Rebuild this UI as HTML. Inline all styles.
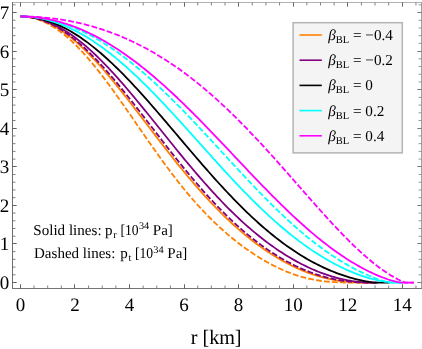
<!DOCTYPE html>
<html><head><meta charset="utf-8"><style>
html,body{margin:0;padding:0;background:#fff;}
svg{display:block;will-change:transform;font-family:"Liberation Serif",serif;}
text{text-rendering:geometricPrecision;}
.g{opacity:0.999;}
</style></head><body>
<svg width="422" height="349" viewBox="0 0 422 349">
<g><path d="M20.40,16.45 L22.60,16.49 L24.81,16.61 L27.01,16.82 L29.22,17.12 L31.42,17.49 L33.63,17.95 L35.83,18.49 L38.04,19.11 L40.24,19.81 L42.45,20.59 L44.65,21.45 L46.86,22.39 L49.06,23.41 L51.27,24.51 L53.47,25.68 L55.68,26.93 L57.88,28.25 L60.08,29.64 L62.29,31.11 L64.49,32.64 L66.70,34.25 L68.90,35.92 L71.11,37.66 L73.31,39.46 L75.52,41.33 L77.72,43.26 L79.93,45.24 L82.13,47.29 L84.34,49.39 L86.54,51.54 L88.75,53.75 L90.95,56.01 L93.16,58.32 L95.36,60.67 L97.56,63.07 L99.77,65.52 L101.97,68.00 L104.18,70.52 L106.38,73.08 L108.59,75.68 L110.79,78.31 L113.00,80.97 L115.20,83.66 L117.41,86.38 L119.61,89.12 L121.82,91.88 L124.02,94.67 L126.23,97.48 L128.43,100.30 L130.64,103.14 L132.84,105.99 L135.04,108.85 L137.25,111.73 L139.45,114.61 L141.66,117.49 L143.86,120.38 L146.07,123.28 L148.27,126.17 L150.48,129.06 L152.68,131.95 L154.89,134.83 L157.09,137.71 L159.30,140.58 L161.50,143.44 L163.71,146.29 L165.91,149.13 L168.12,151.96 L170.32,154.77 L172.52,157.56 L174.73,160.34 L176.93,163.09 L179.14,165.83 L181.34,168.55 L183.55,171.24 L185.75,173.92 L187.96,176.57 L190.16,179.19 L192.37,181.79 L194.57,184.36 L196.78,186.90 L198.98,189.42 L201.19,191.91 L203.39,194.37 L205.60,196.80 L207.80,199.20 L210.00,201.56 L212.21,203.90 L214.41,206.21 L216.62,208.48 L218.82,210.72 L221.03,212.93 L223.23,215.10 L225.44,217.24 L227.64,219.35 L229.85,221.43 L232.05,223.47 L234.26,225.47 L236.46,227.45 L238.67,229.39 L240.87,231.29 L243.08,233.16 L245.28,235.00 L247.48,236.80 L249.69,238.57 L251.89,240.30 L254.10,242.00 L256.30,243.66 L258.51,245.29 L260.71,246.88 L262.92,248.44 L265.12,249.97 L267.33,251.46 L269.53,252.92 L271.74,254.34 L273.94,255.72 L276.15,257.08 L278.35,258.39 L280.56,259.68 L282.76,260.92 L284.96,262.14 L287.17,263.32 L289.37,264.46 L291.58,265.57 L293.78,266.64 L295.99,267.67 L298.19,268.68 L300.40,269.64 L302.60,270.57 L304.81,271.47 L307.01,272.33 L309.22,273.15 L311.42,273.93 L313.63,274.69 L315.83,275.40 L318.04,276.08 L320.24,276.72 L322.44,277.33 L324.65,277.90 L326.85,278.43 L329.06,278.93 L331.26,279.40 L333.47,279.83 L335.67,280.22 L337.88,280.58 L340.08,280.91 L342.29,281.21 L344.49,281.47 L346.70,281.70 L348.90,281.91 L351.11,282.08 L353.31,282.23 L355.52,282.35 L357.72,282.45 L359.92,282.52 L362.13,282.58 L364.33,282.62 L366.54,282.64 L368.74,282.65 L370.95,282.65 L370.95,282.65" stroke="#ff8000" stroke-width="1.8" fill="none"/><path d="M20.40,16.45 L22.60,16.50 L24.81,16.64 L27.01,16.88 L29.22,17.21 L31.42,17.63 L33.63,18.15 L35.83,18.77 L38.04,19.48 L40.24,20.28 L42.45,21.17 L44.65,22.15 L46.86,23.23 L49.06,24.39 L51.27,25.64 L53.47,26.98 L55.68,28.40 L57.88,29.91 L60.08,31.51 L62.29,33.18 L64.49,34.94 L66.70,36.78 L68.90,38.69 L71.11,40.69 L73.31,42.75 L75.52,44.89 L77.72,47.10 L79.93,49.38 L82.13,51.72 L84.34,54.13 L86.54,56.60 L88.75,59.13 L90.95,61.72 L93.16,64.37 L95.36,67.07 L97.56,69.82 L99.77,72.61 L101.97,75.46 L104.18,78.34 L106.38,81.27 L108.59,84.23 L110.79,87.23 L113.00,90.26 L115.20,93.32 L117.41,96.41 L119.61,99.52 L121.82,102.66 L124.02,105.81 L126.23,108.97 L128.43,112.15 L130.64,115.34 L132.84,118.54 L135.04,121.74 L137.25,124.94 L139.45,128.14 L141.66,131.34 L143.86,134.53 L146.07,137.72 L148.27,140.89 L150.48,144.05 L152.68,147.19 L154.89,150.32 L157.09,153.42 L159.30,156.50 L161.50,159.56 L163.71,162.60 L165.91,165.60 L168.12,168.58 L170.32,171.52 L172.52,174.43 L174.73,177.31 L176.93,180.15 L179.14,182.96 L181.34,185.73 L183.55,188.46 L185.75,191.15 L187.96,193.80 L190.16,196.41 L192.37,198.97 L194.57,201.50 L196.78,203.99 L198.98,206.43 L201.19,208.83 L203.39,211.18 L205.60,213.50 L207.80,215.77 L210.00,218.00 L212.21,220.19 L214.41,222.33 L216.62,224.44 L218.82,226.50 L221.03,228.52 L223.23,230.50 L225.44,232.44 L227.64,234.35 L229.85,236.21 L232.05,238.03 L234.26,239.82 L236.46,241.57 L238.67,243.28 L240.87,244.96 L243.08,246.59 L245.28,248.20 L247.48,249.76 L249.69,251.29 L251.89,252.79 L254.10,254.25 L256.30,255.67 L258.51,257.06 L260.71,258.41 L262.92,259.73 L265.12,261.02 L267.33,262.26 L269.53,263.47 L271.74,264.65 L273.94,265.79 L276.15,266.89 L278.35,267.95 L280.56,268.98 L282.76,269.97 L284.96,270.92 L287.17,271.83 L289.37,272.70 L291.58,273.53 L293.78,274.32 L295.99,275.08 L298.19,275.79 L300.40,276.46 L302.60,277.09 L304.81,277.69 L307.01,278.24 L309.22,278.75 L311.42,279.23 L313.63,279.66 L315.83,280.06 L318.04,280.43 L320.24,280.76 L322.44,281.05 L324.65,281.31 L326.85,281.55 L329.06,281.75 L331.26,281.92 L333.47,282.07 L335.67,282.20 L337.88,282.31 L340.08,282.39 L342.29,282.46 L344.49,282.52 L346.70,282.56 L348.90,282.59 L351.11,282.61 L353.31,282.63 L355.52,282.64 L357.72,282.64 L359.92,282.65 L362.13,282.65 L364.33,282.65 L366.54,282.65 L368.74,282.65 L370.95,282.65 L370.95,282.65" stroke="#ff8000" stroke-width="1.8" fill="none" stroke-dasharray="5.8 2.2"/><path d="M20.40,16.45 L22.61,16.48 L24.82,16.59 L27.04,16.77 L29.25,17.02 L31.46,17.34 L33.67,17.73 L35.88,18.20 L38.10,18.73 L40.31,19.33 L42.52,20.00 L44.73,20.74 L46.95,21.55 L49.16,22.43 L51.37,23.38 L53.58,24.39 L55.79,25.46 L58.01,26.60 L60.22,27.81 L62.43,29.08 L64.64,30.41 L66.85,31.81 L69.07,33.26 L71.28,34.77 L73.49,36.34 L75.70,37.97 L77.92,39.66 L80.13,41.40 L82.34,43.19 L84.55,45.04 L86.76,46.94 L88.98,48.88 L91.19,50.88 L93.40,52.92 L95.61,55.01 L97.82,57.15 L100.04,59.33 L102.25,61.54 L104.46,63.80 L106.67,66.10 L108.89,68.43 L111.10,70.80 L113.31,73.21 L115.52,75.64 L117.73,78.11 L119.95,80.61 L122.16,83.13 L124.37,85.68 L126.58,88.26 L128.79,90.86 L131.01,93.48 L133.22,96.12 L135.43,98.78 L137.64,101.45 L139.86,104.14 L142.07,106.85 L144.28,109.56 L146.49,112.29 L148.70,115.02 L150.92,117.77 L153.13,120.51 L155.34,123.27 L157.55,126.02 L159.76,128.78 L161.98,131.54 L164.19,134.29 L166.40,137.05 L168.61,139.80 L170.82,142.54 L173.04,145.28 L175.25,148.00 L177.46,150.72 L179.67,153.43 L181.89,156.13 L184.10,158.82 L186.31,161.49 L188.52,164.14 L190.73,166.78 L192.95,169.40 L195.16,172.01 L197.37,174.59 L199.58,177.15 L201.79,179.70 L204.01,182.22 L206.22,184.72 L208.43,187.19 L210.64,189.64 L212.86,192.07 L215.07,194.47 L217.28,196.84 L219.49,199.19 L221.70,201.50 L223.92,203.79 L226.13,206.06 L228.34,208.29 L230.55,210.49 L232.76,212.66 L234.98,214.80 L237.19,216.92 L239.40,219.00 L241.61,221.04 L243.83,223.06 L246.04,225.05 L248.25,227.00 L250.46,228.92 L252.67,230.81 L254.89,232.66 L257.10,234.48 L259.31,236.27 L261.52,238.03 L263.73,239.75 L265.95,241.44 L268.16,243.10 L270.37,244.72 L272.58,246.31 L274.80,247.87 L277.01,249.39 L279.22,250.88 L281.43,252.33 L283.64,253.76 L285.86,255.15 L288.07,256.50 L290.28,257.82 L292.49,259.11 L294.70,260.37 L296.92,261.59 L299.13,262.78 L301.34,263.94 L303.55,265.06 L305.77,266.15 L307.98,267.20 L310.19,268.22 L312.40,269.21 L314.61,270.17 L316.83,271.09 L319.04,271.97 L321.25,272.82 L323.46,273.64 L325.67,274.43 L327.89,275.18 L330.10,275.89 L332.31,276.57 L334.52,277.21 L336.73,277.82 L338.95,278.40 L341.16,278.94 L343.37,279.44 L345.58,279.91 L347.80,280.34 L350.01,280.73 L352.22,281.09 L354.43,281.41 L356.64,281.70 L358.86,281.95 L361.07,282.16 L363.28,282.33 L365.49,282.47 L367.70,282.57 L369.92,282.63 L372.13,282.65 L377.77,282.65" stroke="#800080" stroke-width="1.8" fill="none"/><path d="M20.40,16.45 L22.65,16.49 L24.90,16.61 L27.14,16.82 L29.39,17.10 L31.64,17.47 L33.89,17.92 L36.13,18.45 L38.38,19.06 L40.63,19.76 L42.88,20.53 L45.12,21.37 L47.37,22.30 L49.62,23.31 L51.87,24.39 L54.11,25.54 L56.36,26.77 L58.61,28.07 L60.86,29.45 L63.10,30.90 L65.35,32.41 L67.60,34.00 L69.85,35.65 L72.09,37.37 L74.34,39.15 L76.59,41.00 L78.84,42.91 L81.09,44.88 L83.33,46.90 L85.58,48.99 L87.83,51.12 L90.08,53.32 L92.32,55.56 L94.57,57.85 L96.82,60.19 L99.07,62.58 L101.31,65.01 L103.56,67.49 L105.81,70.00 L108.06,72.56 L110.30,75.15 L112.55,77.78 L114.80,80.43 L117.05,83.12 L119.29,85.84 L121.54,88.59 L123.79,91.36 L126.04,94.15 L128.28,96.97 L130.53,99.80 L132.78,102.66 L135.03,105.52 L137.28,108.40 L139.52,111.29 L141.77,114.20 L144.02,117.10 L146.27,120.02 L148.51,122.94 L150.76,125.86 L153.01,128.78 L155.26,131.70 L157.50,134.62 L159.75,137.53 L162.00,140.44 L164.25,143.34 L166.49,146.23 L168.74,149.10 L170.99,151.97 L173.24,154.82 L175.48,157.66 L177.73,160.48 L179.98,163.28 L182.23,166.06 L184.47,168.82 L186.72,171.56 L188.97,174.28 L191.22,176.97 L193.47,179.64 L195.71,182.29 L197.96,184.90 L200.21,187.49 L202.46,190.05 L204.70,192.58 L206.95,195.08 L209.20,197.55 L211.45,199.99 L213.69,202.39 L215.94,204.77 L218.19,207.11 L220.44,209.41 L222.68,211.69 L224.93,213.92 L227.18,216.13 L229.43,218.30 L231.67,220.43 L233.92,222.53 L236.17,224.59 L238.42,226.61 L240.66,228.60 L242.91,230.56 L245.16,232.47 L247.41,234.35 L249.65,236.20 L251.90,238.00 L254.15,239.78 L256.40,241.51 L258.65,243.21 L260.89,244.87 L263.14,246.49 L265.39,248.08 L267.64,249.63 L269.88,251.15 L272.13,252.63 L274.38,254.07 L276.63,255.48 L278.87,256.85 L281.12,258.19 L283.37,259.49 L285.62,260.75 L287.86,261.98 L290.11,263.17 L292.36,264.32 L294.61,265.44 L296.85,266.53 L299.10,267.57 L301.35,268.59 L303.60,269.56 L305.84,270.50 L308.09,271.40 L310.34,272.27 L312.59,273.10 L314.84,273.89 L317.08,274.65 L319.33,275.37 L321.58,276.06 L323.83,276.71 L326.07,277.32 L328.32,277.89 L330.57,278.43 L332.82,278.94 L335.06,279.41 L337.31,279.84 L339.56,280.24 L341.81,280.60 L344.05,280.93 L346.30,281.22 L348.55,281.49 L350.80,281.72 L353.04,281.92 L355.29,282.09 L357.54,282.24 L359.79,282.36 L362.03,282.45 L364.28,282.52 L366.53,282.58 L368.78,282.61 L371.03,282.63 L373.27,282.65 L375.52,282.65 L377.77,282.65 L377.77,282.65" stroke="#800080" stroke-width="1.8" fill="none" stroke-dasharray="5.8 2.2"/><path d="M20.40,16.45 L22.64,16.48 L24.89,16.57 L27.13,16.72 L29.37,16.93 L31.61,17.21 L33.86,17.54 L36.10,17.93 L38.34,18.38 L40.59,18.90 L42.83,19.47 L45.07,20.10 L47.32,20.79 L49.56,21.54 L51.80,22.34 L54.04,23.20 L56.29,24.12 L58.53,25.10 L60.77,26.13 L63.02,27.22 L65.26,28.36 L67.50,29.56 L69.74,30.81 L71.99,32.11 L74.23,33.47 L76.47,34.88 L78.72,36.33 L80.96,37.84 L83.20,39.40 L85.45,41.00 L87.69,42.65 L89.93,44.35 L92.17,46.09 L94.42,47.88 L96.66,49.71 L98.90,51.59 L101.15,53.51 L103.39,55.46 L105.63,57.46 L107.87,59.50 L110.12,61.57 L112.36,63.68 L114.60,65.82 L116.85,68.00 L119.09,70.21 L121.33,72.46 L123.58,74.73 L125.82,77.04 L128.06,79.37 L130.30,81.73 L132.55,84.11 L134.79,86.52 L137.03,88.96 L139.28,91.42 L141.52,93.89 L143.76,96.39 L146.00,98.91 L148.25,101.44 L150.49,103.99 L152.73,106.56 L154.98,109.14 L157.22,111.73 L159.46,114.33 L161.71,116.94 L163.95,119.57 L166.19,122.19 L168.43,124.83 L170.68,127.47 L172.92,130.11 L175.16,132.76 L177.41,135.41 L179.65,138.06 L181.89,140.70 L184.13,143.35 L186.38,145.99 L188.62,148.63 L190.86,151.26 L193.11,153.88 L195.35,156.50 L197.59,159.11 L199.83,161.71 L202.08,164.30 L204.32,166.87 L206.56,169.43 L208.81,171.98 L211.05,174.51 L213.29,177.03 L215.54,179.53 L217.78,182.01 L220.02,184.48 L222.26,186.92 L224.51,189.34 L226.75,191.74 L228.99,194.12 L231.24,196.48 L233.48,198.81 L235.72,201.12 L237.96,203.41 L240.21,205.66 L242.45,207.90 L244.69,210.10 L246.94,212.28 L249.18,214.43 L251.42,216.54 L253.67,218.64 L255.91,220.70 L258.15,222.73 L260.39,224.73 L262.64,226.70 L264.88,228.63 L267.12,230.54 L269.37,232.41 L271.61,234.25 L273.85,236.06 L276.09,237.84 L278.34,239.58 L280.58,241.29 L282.82,242.96 L285.07,244.61 L287.31,246.22 L289.55,247.79 L291.80,249.33 L294.04,250.84 L296.28,252.31 L298.52,253.75 L300.77,255.15 L303.01,256.52 L305.25,257.86 L307.50,259.16 L309.74,260.43 L311.98,261.67 L314.22,262.87 L316.47,264.04 L318.71,265.17 L320.95,266.27 L323.20,267.34 L325.44,268.38 L327.68,269.38 L329.93,270.35 L332.17,271.28 L334.41,272.19 L336.65,273.06 L338.90,273.89 L341.14,274.70 L343.38,275.47 L345.63,276.21 L347.87,276.92 L350.11,277.59 L352.35,278.23 L354.60,278.83 L356.84,279.40 L359.08,279.94 L361.33,280.44 L363.57,280.90 L365.81,281.32 L368.06,281.70 L370.30,282.03 L372.54,282.31 L374.78,282.53 L377.03,282.65 L389.50,282.65" stroke="#000000" stroke-width="1.8" fill="none"/><path d="M20.40,16.45 L22.78,16.48 L25.16,16.56 L27.55,16.69 L29.93,16.88 L32.31,17.13 L34.69,17.43 L37.08,17.78 L39.46,18.19 L41.84,18.65 L44.22,19.17 L46.61,19.74 L48.99,20.36 L51.37,21.04 L53.75,21.77 L56.14,22.55 L58.52,23.38 L60.90,24.27 L63.28,25.21 L65.67,26.19 L68.05,27.23 L70.43,28.32 L72.81,29.46 L75.20,30.65 L77.58,31.89 L79.96,33.18 L82.34,34.51 L84.73,35.89 L87.11,37.32 L89.49,38.80 L91.87,40.32 L94.26,41.89 L96.64,43.50 L99.02,45.15 L101.40,46.85 L103.79,48.59 L106.17,50.37 L108.55,52.20 L110.93,54.06 L113.32,55.96 L115.70,57.91 L118.08,59.88 L120.46,61.90 L122.85,63.95 L125.23,66.04 L127.61,68.16 L129.99,70.32 L132.38,72.51 L134.76,74.72 L137.14,76.97 L139.52,79.25 L141.91,81.56 L144.29,83.90 L146.67,86.26 L149.05,88.64 L151.44,91.06 L153.82,93.49 L156.20,95.95 L158.58,98.42 L160.97,100.92 L163.35,103.44 L165.73,105.97 L168.11,108.52 L170.50,111.09 L172.88,113.67 L175.26,116.26 L177.64,118.87 L180.03,121.48 L182.41,124.11 L184.79,126.74 L187.17,129.38 L189.56,132.03 L191.94,134.68 L194.32,137.33 L196.70,139.99 L199.09,142.65 L201.47,145.30 L203.85,147.96 L206.23,150.61 L208.62,153.26 L211.00,155.91 L213.38,158.55 L215.76,161.18 L218.15,163.80 L220.53,166.42 L222.91,169.02 L225.29,171.61 L227.68,174.19 L230.06,176.75 L232.44,179.30 L234.82,181.84 L237.21,184.35 L239.59,186.85 L241.97,189.33 L244.35,191.79 L246.74,194.23 L249.12,196.65 L251.50,199.04 L253.88,201.41 L256.27,203.76 L258.65,206.08 L261.03,208.38 L263.41,210.65 L265.80,212.89 L268.18,215.11 L270.56,217.29 L272.94,219.45 L275.33,221.58 L277.71,223.67 L280.09,225.74 L282.47,227.78 L284.86,229.78 L287.24,231.75 L289.62,233.69 L292.00,235.59 L294.39,237.47 L296.77,239.30 L299.15,241.11 L301.53,242.88 L303.92,244.62 L306.30,246.32 L308.68,247.99 L311.06,249.62 L313.45,251.22 L315.83,252.78 L318.21,254.31 L320.59,255.80 L322.98,257.25 L325.36,258.67 L327.74,260.06 L330.12,261.41 L332.51,262.72 L334.89,263.99 L337.27,265.23 L339.65,266.43 L342.04,267.60 L344.42,268.73 L346.80,269.82 L349.18,270.87 L351.57,271.88 L353.95,272.86 L356.33,273.79 L358.71,274.69 L361.10,275.54 L363.48,276.35 L365.86,277.12 L368.24,277.85 L370.63,278.53 L373.01,279.16 L375.39,279.75 L377.77,280.29 L380.16,280.77 L382.54,281.21 L384.92,281.59 L387.30,281.91 L389.69,282.18 L392.07,282.39 L394.45,282.54 L396.83,282.62 L399.22,282.65 L402.59,282.65" stroke="#00ffff" stroke-width="1.8" fill="none"/><path d="M20.40,16.45 L22.73,16.47 L25.06,16.53 L27.39,16.64 L29.72,16.79 L32.05,16.98 L34.38,17.21 L36.70,17.49 L39.03,17.81 L41.36,18.17 L43.69,18.57 L46.02,19.02 L48.35,19.51 L50.68,20.03 L53.01,20.61 L55.34,21.22 L57.67,21.87 L60.00,22.57 L62.33,23.31 L64.65,24.08 L66.98,24.90 L69.31,25.76 L71.64,26.66 L73.97,27.60 L76.30,28.59 L78.63,29.61 L80.96,30.67 L83.29,31.77 L85.62,32.91 L87.95,34.09 L90.28,35.30 L92.61,36.56 L94.93,37.85 L97.26,39.18 L99.59,40.55 L101.92,41.96 L104.25,43.40 L106.58,44.88 L108.91,46.40 L111.24,47.95 L113.57,49.54 L115.90,51.16 L118.23,52.81 L120.56,54.50 L122.88,56.23 L125.21,57.98 L127.54,59.77 L129.87,61.59 L132.20,63.45 L134.53,65.33 L136.86,67.24 L139.19,69.19 L141.52,71.16 L143.85,73.16 L146.18,75.19 L148.51,77.25 L150.84,79.34 L153.16,81.45 L155.49,83.59 L157.82,85.75 L160.15,87.94 L162.48,90.15 L164.81,92.38 L167.14,94.63 L169.47,96.91 L171.80,99.21 L174.13,101.53 L176.46,103.86 L178.79,106.22 L181.11,108.59 L183.44,110.98 L185.77,113.38 L188.10,115.80 L190.43,118.24 L192.76,120.68 L195.09,123.14 L197.42,125.61 L199.75,128.09 L202.08,130.59 L204.41,133.09 L206.74,135.59 L209.07,138.11 L211.39,140.63 L213.72,143.15 L216.05,145.68 L218.38,148.21 L220.71,150.74 L223.04,153.28 L225.37,155.81 L227.70,158.34 L230.03,160.87 L232.36,163.40 L234.69,165.92 L237.02,168.44 L239.34,170.95 L241.67,173.45 L244.00,175.95 L246.33,178.43 L248.66,180.91 L250.99,183.37 L253.32,185.83 L255.65,188.26 L257.98,190.69 L260.31,193.10 L262.64,195.49 L264.97,197.87 L267.30,200.22 L269.62,202.56 L271.95,204.88 L274.28,207.18 L276.61,209.45 L278.94,211.71 L281.27,213.94 L283.60,216.14 L285.93,218.32 L288.26,220.48 L290.59,222.60 L292.92,224.70 L295.25,226.78 L297.57,228.82 L299.90,230.84 L302.23,232.82 L304.56,234.78 L306.89,236.70 L309.22,238.59 L311.55,240.46 L313.88,242.28 L316.21,244.08 L318.54,245.84 L320.87,247.57 L323.20,249.27 L325.52,250.93 L327.85,252.56 L330.18,254.16 L332.51,255.72 L334.84,257.24 L337.17,258.74 L339.50,260.19 L341.83,261.62 L344.16,263.01 L346.49,264.36 L348.82,265.68 L351.15,266.96 L353.48,268.22 L355.80,269.43 L358.13,270.61 L360.46,271.76 L362.79,272.87 L365.12,273.95 L367.45,274.99 L369.78,275.99 L372.11,276.95 L374.44,277.88 L376.77,278.76 L379.10,279.59 L381.43,280.37 L383.75,281.09 L386.08,281.74 L388.41,282.29 L390.74,282.65 L402.59,282.65" stroke="#00ffff" stroke-width="1.8" fill="none" stroke-dasharray="5.8 2.2"/><path d="M20.40,16.45 L22.80,16.47 L25.20,16.53 L27.60,16.63 L30.00,16.78 L32.40,16.96 L34.80,17.19 L37.20,17.45 L39.60,17.76 L42.00,18.11 L44.40,18.50 L46.80,18.92 L49.20,19.39 L51.60,19.90 L54.00,20.45 L56.40,21.05 L58.80,21.68 L61.20,22.35 L63.60,23.06 L66.00,23.81 L68.40,24.60 L70.80,25.43 L73.20,26.30 L75.60,27.21 L78.00,28.16 L80.40,29.14 L82.80,30.17 L85.20,31.23 L87.60,32.33 L90.00,33.47 L92.40,34.65 L94.80,35.87 L97.20,37.12 L99.60,38.41 L102.00,39.74 L104.40,41.10 L106.80,42.50 L109.20,43.93 L111.60,45.41 L114.00,46.91 L116.40,48.45 L118.80,50.03 L121.20,51.64 L123.60,53.28 L126.00,54.96 L128.40,56.67 L130.81,58.41 L133.21,60.18 L135.61,61.99 L138.01,63.82 L140.41,65.69 L142.81,67.59 L145.21,69.52 L147.61,71.47 L150.01,73.46 L152.41,75.47 L154.81,77.51 L157.21,79.58 L159.61,81.68 L162.01,83.80 L164.41,85.94 L166.81,88.11 L169.21,90.31 L171.61,92.52 L174.01,94.76 L176.41,97.02 L178.81,99.31 L181.21,101.61 L183.61,103.93 L186.01,106.27 L188.41,108.63 L190.81,111.01 L193.21,113.40 L195.61,115.81 L198.01,118.24 L200.41,120.67 L202.81,123.13 L205.21,125.59 L207.61,128.07 L210.01,130.55 L212.41,133.05 L214.81,135.55 L217.21,138.06 L219.61,140.58 L222.01,143.11 L224.41,145.64 L226.81,148.17 L229.21,150.71 L231.61,153.25 L234.01,155.79 L236.41,158.33 L238.81,160.87 L241.21,163.41 L243.61,165.95 L246.01,168.48 L248.41,171.01 L250.81,173.53 L253.21,176.05 L255.61,178.55 L258.01,181.05 L260.41,183.54 L262.81,186.02 L265.21,188.48 L267.61,190.94 L270.01,193.37 L272.41,195.80 L274.81,198.21 L277.21,200.60 L279.61,202.97 L282.01,205.33 L284.41,207.67 L286.81,209.98 L289.21,212.28 L291.61,214.55 L294.01,216.80 L296.41,219.02 L298.81,221.22 L301.21,223.40 L303.61,225.54 L306.01,227.66 L308.41,229.76 L310.81,231.82 L313.21,233.85 L315.61,235.86 L318.01,237.83 L320.41,239.77 L322.81,241.68 L325.21,243.56 L327.61,245.40 L330.01,247.21 L332.41,248.99 L334.81,250.73 L337.21,252.43 L339.61,254.10 L342.01,255.74 L344.41,257.33 L346.81,258.89 L349.22,260.42 L351.62,261.90 L354.02,263.35 L356.42,264.75 L358.82,266.12 L361.22,267.45 L363.62,268.74 L366.02,269.99 L368.42,271.20 L370.82,272.36 L373.22,273.48 L375.62,274.56 L378.02,275.60 L380.42,276.59 L382.82,277.52 L385.22,278.41 L387.62,279.25 L390.02,280.02 L392.42,280.74 L394.82,281.38 L397.22,281.94 L399.62,282.38 L402.02,282.65 L413.78,282.65" stroke="#ff00ff" stroke-width="1.8" fill="none"/><path d="M20.40,16.45 L22.82,16.46 L25.24,16.49 L27.66,16.55 L30.08,16.62 L32.50,16.72 L34.92,16.85 L37.34,16.99 L39.76,17.16 L42.18,17.34 L44.60,17.55 L47.02,17.79 L49.44,18.04 L51.86,18.32 L54.28,18.62 L56.70,18.95 L59.11,19.30 L61.53,19.67 L63.95,20.06 L66.37,20.48 L68.79,20.92 L71.21,21.38 L73.63,21.87 L76.05,22.38 L78.47,22.92 L80.89,23.48 L83.31,24.06 L85.73,24.67 L88.15,25.31 L90.57,25.97 L92.99,26.65 L95.41,27.37 L97.83,28.10 L100.25,28.86 L102.67,29.65 L105.09,30.47 L107.51,31.31 L109.93,32.18 L112.35,33.07 L114.77,33.99 L117.19,34.94 L119.61,35.92 L122.03,36.92 L124.45,37.96 L126.87,39.02 L129.29,40.11 L131.71,41.22 L134.13,42.37 L136.54,43.54 L138.96,44.75 L141.38,45.98 L143.80,47.24 L146.22,48.54 L148.64,49.86 L151.06,51.21 L153.48,52.59 L155.90,54.00 L158.32,55.44 L160.74,56.92 L163.16,58.42 L165.58,59.95 L168.00,61.52 L170.42,63.11 L172.84,64.73 L175.26,66.39 L177.68,68.08 L180.10,69.79 L182.52,71.54 L184.94,73.32 L187.36,75.13 L189.78,76.97 L192.20,78.84 L194.62,80.74 L197.04,82.67 L199.46,84.63 L201.88,86.62 L204.30,88.64 L206.72,90.69 L209.14,92.77 L211.56,94.88 L213.97,97.01 L216.39,99.18 L218.81,101.37 L221.23,103.59 L223.65,105.84 L226.07,108.12 L228.49,110.42 L230.91,112.75 L233.33,115.10 L235.75,117.48 L238.17,119.89 L240.59,122.32 L243.01,124.77 L245.43,127.24 L247.85,129.74 L250.27,132.26 L252.69,134.80 L255.11,137.36 L257.53,139.94 L259.95,142.54 L262.37,145.15 L264.79,147.78 L267.21,150.43 L269.63,153.10 L272.05,155.77 L274.47,158.46 L276.89,161.17 L279.31,163.88 L281.73,166.60 L284.15,169.34 L286.57,172.08 L288.99,174.82 L291.40,177.58 L293.82,180.33 L296.24,183.09 L298.66,185.85 L301.08,188.61 L303.50,191.37 L305.92,194.12 L308.34,196.87 L310.76,199.61 L313.18,202.35 L315.60,205.08 L318.02,207.80 L320.44,210.50 L322.86,213.19 L325.28,215.87 L327.70,218.52 L330.12,221.16 L332.54,223.78 L334.96,226.38 L337.38,228.95 L339.80,231.49 L342.22,234.01 L344.64,236.49 L347.06,238.94 L349.48,241.36 L351.90,243.74 L354.32,246.09 L356.74,248.39 L359.16,250.65 L361.58,252.87 L364.00,255.04 L366.42,257.16 L368.83,259.23 L371.25,261.24 L373.67,263.20 L376.09,265.11 L378.51,266.95 L380.93,268.73 L383.35,270.45 L385.77,272.10 L388.19,273.68 L390.61,275.20 L393.03,276.63 L395.45,278.00 L397.87,279.28 L400.29,280.49 L402.71,281.61 L405.13,282.65 L413.78,282.65" stroke="#ff00ff" stroke-width="1.8" fill="none" stroke-dasharray="5.8 2.2"/></g>
<path d="M12,2.5 H422" stroke="#b2b2b2" stroke-width="1" fill="none"/>
<path d="M421.5,2 V289" stroke="#a0a0a0" stroke-width="1" fill="none"/>
<path d="M12.5,2 V289" stroke="#6e6e6e" stroke-width="1" fill="none"/>
<path d="M12,288.5 H422" stroke="#747474" stroke-width="1" fill="none"/>
<path d="M20.50,288.5 v-4.2 M20.50,2.5 v4.2 M74.50,288.5 v-4.2 M74.50,2.5 v4.2 M129.50,288.5 v-4.2 M129.50,2.5 v4.2 M184.50,288.5 v-4.2 M184.50,2.5 v4.2 M238.50,288.5 v-4.2 M238.50,2.5 v4.2 M293.50,288.5 v-4.2 M293.50,2.5 v4.2 M347.50,288.5 v-4.2 M347.50,2.5 v4.2 M402.50,288.5 v-4.2 M402.50,2.5 v4.2 M12.5,282.50 h4.2 M12.5,243.50 h4.2 M12.5,205.50 h4.2 M12.5,166.50 h4.2 M12.5,128.50 h4.2 M12.5,89.50 h4.2 M12.5,51.50 h4.2 M12.5,12.50 h4.2" stroke="#505050" stroke-width="0.9" fill="none"/>
<path d="M34.04,288.5 v-3.0 M34.04,2.5 v3.0 M47.68,288.5 v-3.0 M47.68,2.5 v3.0 M61.32,288.5 v-3.0 M61.32,2.5 v3.0 M88.60,288.5 v-3.0 M88.60,2.5 v3.0 M102.24,288.5 v-3.0 M102.24,2.5 v3.0 M115.88,288.5 v-3.0 M115.88,2.5 v3.0 M143.16,288.5 v-3.0 M143.16,2.5 v3.0 M156.80,288.5 v-3.0 M156.80,2.5 v3.0 M170.44,288.5 v-3.0 M170.44,2.5 v3.0 M197.72,288.5 v-3.0 M197.72,2.5 v3.0 M211.36,288.5 v-3.0 M211.36,2.5 v3.0 M225.00,288.5 v-3.0 M225.00,2.5 v3.0 M252.28,288.5 v-3.0 M252.28,2.5 v3.0 M265.92,288.5 v-3.0 M265.92,2.5 v3.0 M279.56,288.5 v-3.0 M279.56,2.5 v3.0 M306.84,288.5 v-3.0 M306.84,2.5 v3.0 M320.48,288.5 v-3.0 M320.48,2.5 v3.0 M334.12,288.5 v-3.0 M334.12,2.5 v3.0 M361.40,288.5 v-3.0 M361.40,2.5 v3.0 M375.04,288.5 v-3.0 M375.04,2.5 v3.0 M388.68,288.5 v-3.0 M388.68,2.5 v3.0 M415.96,288.5 v-3.0 M415.96,2.5 v3.0 M12.5,274.79 h3.0 M12.5,267.07 h3.0 M12.5,259.36 h3.0 M12.5,251.64 h3.0 M12.5,236.22 h3.0 M12.5,228.50 h3.0 M12.5,220.79 h3.0 M12.5,213.07 h3.0 M12.5,197.65 h3.0 M12.5,189.93 h3.0 M12.5,182.22 h3.0 M12.5,174.50 h3.0 M12.5,159.08 h3.0 M12.5,151.36 h3.0 M12.5,143.65 h3.0 M12.5,135.93 h3.0 M12.5,120.51 h3.0 M12.5,112.79 h3.0 M12.5,105.08 h3.0 M12.5,97.36 h3.0 M12.5,81.94 h3.0 M12.5,74.22 h3.0 M12.5,66.51 h3.0 M12.5,58.79 h3.0 M12.5,43.37 h3.0 M12.5,35.65 h3.0 M12.5,27.94 h3.0 M12.5,20.22 h3.0 M12.5,4.80 h3.0" stroke="#6c6c6c" stroke-width="0.85" fill="none"/>
<path d="M421.5,282.50 h-4.2 M421.5,243.50 h-4.2 M421.5,205.50 h-4.2 M421.5,166.50 h-4.2 M421.5,128.50 h-4.2 M421.5,89.50 h-4.2 M421.5,51.50 h-4.2 M421.5,12.50 h-4.2" stroke="#707070" stroke-width="0.9" fill="none"/>
<path d="M421.5,274.79 h-3.0 M421.5,267.07 h-3.0 M421.5,259.36 h-3.0 M421.5,251.64 h-3.0 M421.5,236.22 h-3.0 M421.5,228.50 h-3.0 M421.5,220.79 h-3.0 M421.5,213.07 h-3.0 M421.5,197.65 h-3.0 M421.5,189.93 h-3.0 M421.5,182.22 h-3.0 M421.5,174.50 h-3.0 M421.5,159.08 h-3.0 M421.5,151.36 h-3.0 M421.5,143.65 h-3.0 M421.5,135.93 h-3.0 M421.5,120.51 h-3.0 M421.5,112.79 h-3.0 M421.5,105.08 h-3.0 M421.5,97.36 h-3.0 M421.5,81.94 h-3.0 M421.5,74.22 h-3.0 M421.5,66.51 h-3.0 M421.5,58.79 h-3.0 M421.5,43.37 h-3.0 M421.5,35.65 h-3.0 M421.5,27.94 h-3.0 M421.5,20.22 h-3.0 M421.5,4.80 h-3.0" stroke="#888888" stroke-width="0.85" fill="none"/>
<g class="g"><g font-size="19" fill="#000"><text x="20.4" y="311.3" text-anchor="middle">0</text><text x="75.0" y="311.3" text-anchor="middle">2</text><text x="129.5" y="311.3" text-anchor="middle">4</text><text x="184.1" y="311.3" text-anchor="middle">6</text><text x="238.6" y="311.3" text-anchor="middle">8</text><text x="293.2" y="311.3" text-anchor="middle">10</text><text x="347.8" y="311.3" text-anchor="middle">12</text><text x="402.3" y="311.3" text-anchor="middle">14</text><text x="9.3" y="288.9" text-anchor="end">0</text><text x="9.3" y="250.3" text-anchor="end">1</text><text x="9.3" y="211.8" text-anchor="end">2</text><text x="9.3" y="173.2" text-anchor="end">3</text><text x="9.3" y="134.6" text-anchor="end">4</text><text x="9.3" y="96.1" text-anchor="end">5</text><text x="9.3" y="57.5" text-anchor="end">6</text><text x="9.3" y="18.9" text-anchor="end">7</text></g>
<text x="190.7" y="343.6" font-size="20.5" textLength="50.9" lengthAdjust="spacingAndGlyphs">r [km]</text>
<rect x="293.1" y="22.7" width="109.2" height="130.2" fill="#f4f4f4" stroke="#b4b4b4" stroke-width="1.5"/>
<line x1="299.5" y1="35.0" x2="321.8" y2="35.0" stroke="#ff8000" stroke-width="1.6"/><text x="328.2" y="40.0" font-size="15.2"><tspan font-style="italic">β</tspan><tspan font-size="10.5" dy="3">BL</tspan><tspan dy="-3"> = −0.4</tspan></text><line x1="299.5" y1="60.2" x2="321.8" y2="60.2" stroke="#800080" stroke-width="1.6"/><text x="328.2" y="65.2" font-size="15.2"><tspan font-style="italic">β</tspan><tspan font-size="10.5" dy="3">BL</tspan><tspan dy="-3"> = −0.2</tspan></text><line x1="299.5" y1="85.4" x2="321.8" y2="85.4" stroke="#000000" stroke-width="1.6"/><text x="328.2" y="90.4" font-size="15.2"><tspan font-style="italic">β</tspan><tspan font-size="10.5" dy="3">BL</tspan><tspan dy="-3"> = 0</tspan></text><line x1="299.5" y1="110.6" x2="321.8" y2="110.6" stroke="#00ffff" stroke-width="1.6"/><text x="328.2" y="115.6" font-size="15.2"><tspan font-style="italic">β</tspan><tspan font-size="10.5" dy="3">BL</tspan><tspan dy="-3"> = 0.2</tspan></text><line x1="299.5" y1="135.8" x2="321.8" y2="135.8" stroke="#ff00ff" stroke-width="1.6"/><text x="328.2" y="140.8" font-size="15.2"><tspan font-style="italic">β</tspan><tspan font-size="10.5" dy="3">BL</tspan><tspan dy="-3"> = 0.4</tspan></text>
<g font-size="15"><text x="33.3" y="234.7" textLength="68.3" lengthAdjust="spacingAndGlyphs">Solid lines:</text><text x="104.9" y="234.7">p</text><text x="113.3" y="237.7" font-size="10.3">r</text><text x="120.5" y="234.7" textLength="18.2" lengthAdjust="spacingAndGlyphs">[10</text><text x="138.9" y="229.39999999999998" font-size="10.3">34</text><text x="152.8" y="234.7">Pa]</text><text x="34" y="257.9" textLength="81.4" lengthAdjust="spacingAndGlyphs">Dashed lines:</text><text x="120.3" y="257.9">p</text><text x="128.4" y="260.9" font-size="10.3">t</text><text x="134.9" y="257.9" textLength="18.2" lengthAdjust="spacingAndGlyphs">[10</text><text x="153.3" y="252.59999999999997" font-size="10.3">34</text><text x="167.3" y="257.9">Pa]</text></g></g>
</svg>
</body></html>
